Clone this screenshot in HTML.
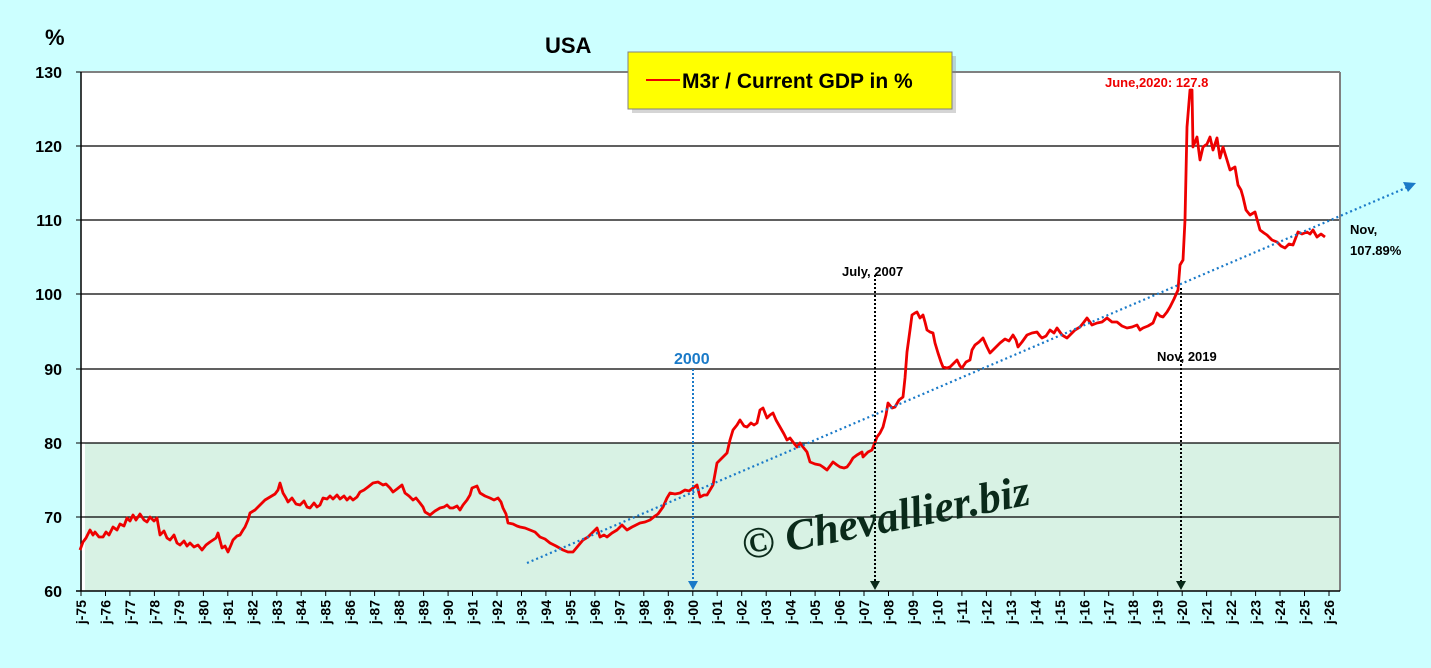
<!DOCTYPE html>
<html><head><meta charset="utf-8"><style>
html,body{margin:0;padding:0;background:#ccffff;}
svg{display:block;font-family:"Liberation Sans",Arial,sans-serif;}
</style></head><body>
<svg width="1431" height="668" viewBox="0 0 1431 668" xmlns="http://www.w3.org/2000/svg">
<rect x="0" y="0" width="1431" height="668" fill="#ccffff"/>
<rect x="81" y="72" width="1259" height="519" fill="#ffffff"/>
<rect x="85" y="443" width="1255" height="148" fill="#d8f2e4"/>
<g stroke="#000" stroke-width="1.2">
<line x1="81" y1="146" x2="1340" y2="146"/><line x1="81" y1="220" x2="1340" y2="220"/>
<line x1="81" y1="294" x2="1340" y2="294"/><line x1="81" y1="369" x2="1340" y2="369"/>
<line x1="81" y1="443" x2="1340" y2="443"/><line x1="81" y1="517" x2="1340" y2="517"/>
</g>
<line x1="81" y1="72" x2="1340" y2="72" stroke="#808080" stroke-width="2"/>
<line x1="1340" y1="72" x2="1340" y2="591" stroke="#808080" stroke-width="2"/>
<line x1="81" y1="72" x2="81" y2="591" stroke="#000" stroke-width="1.5"/>
<line x1="76" y1="591" x2="1340" y2="591" stroke="#000" stroke-width="1.5"/>
<g stroke="#000" stroke-width="1">
<line x1="76" y1="72" x2="81" y2="72"/><line x1="76" y1="146" x2="81" y2="146"/><line x1="76" y1="220" x2="81" y2="220"/><line x1="76" y1="294" x2="81" y2="294"/><line x1="76" y1="369" x2="81" y2="369"/><line x1="76" y1="443" x2="81" y2="443"/><line x1="76" y1="517" x2="81" y2="517"/>
</g>
<path stroke="#000" stroke-width="1" fill="none" d="M81,591v5M105.5,591v5M129.9,591v5M154.4,591v5M178.9,591v5M203.4,591v5M227.8,591v5M252.3,591v5M276.8,591v5M301.2,591v5M325.7,591v5M350.2,591v5M374.6,591v5M399.1,591v5M423.6,591v5M448.1,591v5M472.5,591v5M497,591v5M521.5,591v5M545.9,591v5M570.4,591v5M594.9,591v5M619.3,591v5M643.8,591v5M668.3,591v5M692.8,591v5M717.2,591v5M741.7,591v5M766.2,591v5M790.6,591v5M815.1,591v5M839.6,591v5M864,591v5M888.5,591v5M913,591v5M937.5,591v5M961.9,591v5M986.4,591v5M1010.9,591v5M1035.3,591v5M1059.8,591v5M1084.3,591v5M1108.7,591v5M1133.2,591v5M1157.7,591v5M1182.2,591v5M1206.6,591v5M1231.1,591v5M1255.6,591v5M1280,591v5M1304.5,591v5M1329,591v5"/>
<g font-size="14" font-weight="bold" text-anchor="end">
<text transform="translate(86,600) rotate(-90)">j-75</text>
<text transform="translate(110.5,600) rotate(-90)">j-76</text>
<text transform="translate(134.9,600) rotate(-90)">j-77</text>
<text transform="translate(159.4,600) rotate(-90)">j-78</text>
<text transform="translate(183.9,600) rotate(-90)">j-79</text>
<text transform="translate(208.4,600) rotate(-90)">j-80</text>
<text transform="translate(232.8,600) rotate(-90)">j-81</text>
<text transform="translate(257.3,600) rotate(-90)">j-82</text>
<text transform="translate(281.8,600) rotate(-90)">j-83</text>
<text transform="translate(306.2,600) rotate(-90)">j-84</text>
<text transform="translate(330.7,600) rotate(-90)">j-85</text>
<text transform="translate(355.2,600) rotate(-90)">j-86</text>
<text transform="translate(379.6,600) rotate(-90)">j-87</text>
<text transform="translate(404.1,600) rotate(-90)">j-88</text>
<text transform="translate(428.6,600) rotate(-90)">j-89</text>
<text transform="translate(453.1,600) rotate(-90)">j-90</text>
<text transform="translate(477.5,600) rotate(-90)">j-91</text>
<text transform="translate(502,600) rotate(-90)">j-92</text>
<text transform="translate(526.5,600) rotate(-90)">j-93</text>
<text transform="translate(550.9,600) rotate(-90)">j-94</text>
<text transform="translate(575.4,600) rotate(-90)">j-95</text>
<text transform="translate(599.9,600) rotate(-90)">j-96</text>
<text transform="translate(624.3,600) rotate(-90)">j-97</text>
<text transform="translate(648.8,600) rotate(-90)">j-98</text>
<text transform="translate(673.3,600) rotate(-90)">j-99</text>
<text transform="translate(697.8,600) rotate(-90)">j-00</text>
<text transform="translate(722.2,600) rotate(-90)">j-01</text>
<text transform="translate(746.7,600) rotate(-90)">j-02</text>
<text transform="translate(771.2,600) rotate(-90)">j-03</text>
<text transform="translate(795.6,600) rotate(-90)">j-04</text>
<text transform="translate(820.1,600) rotate(-90)">j-05</text>
<text transform="translate(844.6,600) rotate(-90)">j-06</text>
<text transform="translate(869,600) rotate(-90)">j-07</text>
<text transform="translate(893.5,600) rotate(-90)">j-08</text>
<text transform="translate(918,600) rotate(-90)">j-09</text>
<text transform="translate(942.5,600) rotate(-90)">j-10</text>
<text transform="translate(966.9,600) rotate(-90)">j-11</text>
<text transform="translate(991.4,600) rotate(-90)">j-12</text>
<text transform="translate(1015.9,600) rotate(-90)">j-13</text>
<text transform="translate(1040.3,600) rotate(-90)">j-14</text>
<text transform="translate(1064.8,600) rotate(-90)">j-15</text>
<text transform="translate(1089.3,600) rotate(-90)">j-16</text>
<text transform="translate(1113.7,600) rotate(-90)">j-17</text>
<text transform="translate(1138.2,600) rotate(-90)">j-18</text>
<text transform="translate(1162.7,600) rotate(-90)">j-19</text>
<text transform="translate(1187.2,600) rotate(-90)">j-20</text>
<text transform="translate(1211.6,600) rotate(-90)">j-21</text>
<text transform="translate(1236.1,600) rotate(-90)">j-22</text>
<text transform="translate(1260.6,600) rotate(-90)">j-23</text>
<text transform="translate(1285,600) rotate(-90)">j-24</text>
<text transform="translate(1309.5,600) rotate(-90)">j-25</text>
<text transform="translate(1334,600) rotate(-90)">j-26</text>
</g>
<g font-size="16" font-weight="bold" text-anchor="end" fill="#000">
<text x="62" y="78">130</text><text x="62" y="152">120</text><text x="62" y="226">110</text><text x="62" y="300">100</text><text x="62" y="375">90</text><text x="62" y="449">80</text><text x="62" y="523">70</text><text x="62" y="597">60</text>
</g>
<text x="45" y="45" font-size="22" font-weight="bold">%</text>
<text x="545" y="53" font-size="22" font-weight="bold">USA</text>
<polyline fill="none" stroke="#ee0000" stroke-width="2.8" stroke-linejoin="round" points="80,550 83,542 86,538 90,530 93,535 95,532 99,537 103,537 106,532 109,535 113,527 117,530 120,524 124,526 127,518 130,521 133,515 136,520 140,514 144,520 147,522 150,517 154,521 157,518 160,535 164,531 167,538 170,540 174,535 177,543 180,545 184,541 187,546 190,543 194,547 198,545 202,550 206,545 210,542 213,540 216,538 218,533 222,548 225,546 228,552 231,545 233,540 237,536 240,535 243,530 245,527 248,520 250,513 255,510 260,505 265,500 270,497 275,494 278,490 280,483 283,493 286,498 288,502 292,498 296,504 300,505 304,501 307,507 310,508 314,503 317,507 320,505 323,498 327,499 330,496 333,499 337,495 340,499 344,496 347,500 350,497 353,500 357,497 360,492 364,490 368,487 373,483 378,482 383,485 386,484 390,488 393,492 397,489 402,485 405,493 409,496 413,500 416,498 420,503 423,507 425,512 430,515 435,511 440,508 444,507 447,505 450,508 453,508 457,506 460,510 463,505 467,500 470,495 472,488 477,486 480,493 485,496 490,498 494,500 498,498 501,502 503,508 506,514 508,523 513,524 517,526 520,527 525,528 530,530 535,532 540,537 545,539 550,543 556,546 563,550 568,552 573,552 578,546 583,540 588,537 592,533 597,528 600,537 604,535 607,537 612,533 617,530 622,525 627,530 632,527 636,525 640,523 645,522 650,520 655,516 658,514 663,507 667,498 670,493 675,494 680,493 685,490 689,491 693,488 697,485 700,497 704,495 707,495 710,490 713,485 717,463 722,458 727,453 730,440 733,430 737,425 740,420 744,426 747,427 751,423 754,425 757,423 760,410 763,408 767,418 770,415 773,413 776,420 780,427 784,434 787,440 790,438 793,442 797,447 800,443 803,447 807,452 810,462 815,464 820,465 823,467 827,470 830,466 833,462 837,465 840,467 844,468 847,467 850,463 853,458 857,455 862,452 863,457 868,452 872,450 877,437 880,433 883,427 886,415 888,403 892,408 895,407 899,400 903,397 905,378 907,352 910,330 912,315 915,313 917,312 920,318 923,315 925,322 927,330 930,332 933,333 935,343 938,353 941,362 943,367 947,368 950,367 954,363 957,360 960,366 962,368 966,362 970,360 972,350 975,345 979,342 983,338 987,347 990,353 995,348 1000,343 1005,339 1009,341 1013,335 1016,340 1018,347 1022,342 1027,335 1032,333 1037,332 1040,336 1042,338 1046,336 1050,330 1054,333 1057,328 1062,335 1067,338 1071,334 1075,330 1080,327 1084,322 1087,318 1092,325 1097,323 1102,322 1107,318 1112,322 1117,322 1122,326 1127,328 1132,327 1137,325 1140,330 1143,328 1148,326 1153,323 1157,313 1160,316 1163,317 1167,312 1170,307 1174,299 1178,290 1180,265 1183,260 1185,220 1187,127 1190,90 1192,90 1193,147 1197,137 1200,160 1203,147 1207,144 1210,137 1213,150 1217,138 1220,158 1223,147 1227,160 1230,170 1235,167 1238,185 1241,190 1243,197 1246,210 1250,215 1255,212 1260,230 1264,233 1267,235 1272,240 1277,242 1281,246 1285,248 1289,244 1293,245 1298,232 1302,234 1307,232 1310,234 1313,230 1317,237 1321,234 1325,237"/>
<line x1="527" y1="563" x2="1408" y2="187" stroke="#1a7ac8" stroke-width="2.2" stroke-dasharray="2,3"/>
<polygon points="1416,183 1403,182 1408,192" fill="#1a7ac8"/>
<line x1="693" y1="369" x2="693" y2="582" stroke="#1a7ac8" stroke-width="2" stroke-dasharray="2,2"/>
<polygon points="688,581 698,581 693,590" fill="#1a7ac8"/>
<line x1="875" y1="275" x2="875" y2="582" stroke="#000" stroke-width="2" stroke-dasharray="2,2"/>
<polygon points="870,581 880,581 875,590" fill="#0a2a1a"/>
<line x1="1181" y1="288" x2="1181" y2="582" stroke="#000" stroke-width="2" stroke-dasharray="2,2"/>
<polygon points="1176,581 1186,581 1181,590" fill="#0a2a1a"/>
<text x="674" y="364" font-size="16" font-weight="bold" fill="#1a7ac8">2000</text>
<text x="842" y="276" font-size="13" font-weight="bold">July, 2007</text>
<text x="1157" y="361" font-size="13" font-weight="bold">Nov, 2019</text>
<text x="1105" y="87" font-size="13" font-weight="bold" fill="#ee0000">June,2020: 127.8</text>
<text x="1350" y="234" font-size="13" font-weight="bold">Nov,</text>
<text x="1350" y="255" font-size="13" font-weight="bold">107.89%</text>
<text x="745" y="560" font-size="44" font-style="italic" font-weight="bold" fill="#0a2a1a" font-family="Liberation Serif,serif" transform="rotate(-11 745 560)">© Chevallier.biz</text>
<rect x="632" y="56" width="324" height="57" fill="#888" opacity="0.35"/>
<rect x="628" y="52" width="324" height="57" fill="#ffff00" stroke="#808080" stroke-width="1"/>
<line x1="646" y1="80" x2="680" y2="80" stroke="#ee0000" stroke-width="2"/>
<text x="682" y="88" font-size="21" font-weight="bold">M3r / Current GDP in %</text>
</svg>
</body></html>
